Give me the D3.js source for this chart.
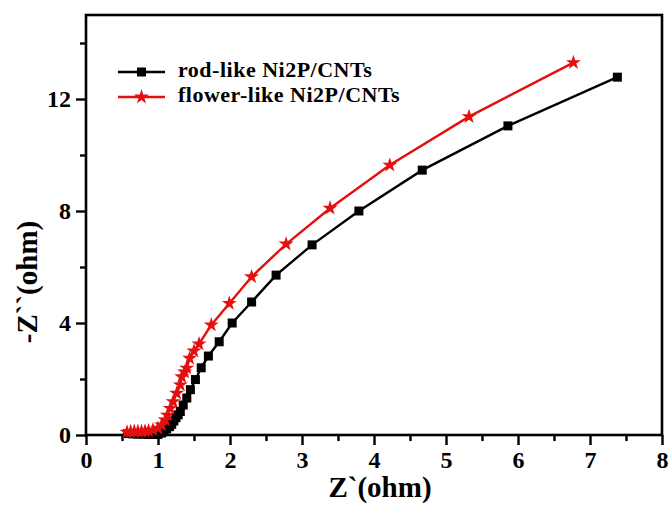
<!DOCTYPE html>
<html>
<head>
<meta charset="utf-8">
<script src="https://d3js.org/d3.v7.min.js"></script>
<style>
  body { margin: 0; background: #fff; }
  svg { display: block; }
  text { font-family: "Liberation Serif", "Times New Roman", serif; font-weight: bold; }
</style>
</head>
<body>
<svg id="chart"></svg>
<script>
// Nyquist data
const rodZre = [0.58, 0.65, 0.72, 0.79, 0.86, 0.93, 1.00, 1.05, 1.09, 1.12, 1.16, 1.19, 1.22, 1.25, 1.28, 1.31, 1.35, 1.40, 1.45, 1.52, 1.60, 1.70, 1.85, 2.03, 2.30, 2.64, 3.14, 3.79, 4.67, 5.86, 7.38];
const rodZim = [0.05, 0.04, 0.03, 0.03, 0.02, 0.02, 0.02, 0.07, 0.14, 0.22, 0.30, 0.38, 0.50, 0.62, 0.72, 0.84, 1.07, 1.32, 1.62, 1.98, 2.40, 2.82, 3.33, 4.00, 4.75, 5.71, 6.79, 8.00, 9.46, 11.04, 12.78];

const flowerZre = [0.57, 0.62, 0.67, 0.72, 0.77, 0.82, 0.87, 0.93, 1.00, 1.05, 1.10, 1.13, 1.17, 1.21, 1.26, 1.31, 1.33, 1.37, 1.40, 1.44, 1.50, 1.57, 1.74, 1.99, 2.30, 2.78, 3.39, 4.22, 5.32, 6.77];
const flowerZim = [0.10, 0.12, 0.13, 0.13, 0.13, 0.14, 0.15, 0.18, 0.24, 0.36, 0.54, 0.71, 0.95, 1.19, 1.49, 1.79, 2.08, 2.25, 2.39, 2.74, 3.00, 3.25, 3.93, 4.70, 5.65, 6.82, 8.10, 9.64, 11.37, 13.30];

const seriesNames = ["rod-like Ni2P/CNTs", "flower-like Ni2P/CNTs"];
const seriesColors = ["#000000", "#e3100f"];
const xTicks = [0, 1, 2, 3, 4, 5, 6, 7, 8];
const yTicks = [0, 4, 8, 12];

const width = 670, height = 505;
const margin = {left: 86, right: 8, top: 15, bottom: 70};

const svg = d3.select("#chart")
    .attr("width", width)
    .attr("height", height);

const x = d3.scaleLinear()
    .domain([0, 8])
    .range([margin.left, width - margin.right]);
const y = d3.scaleLinear()
    .domain([0, 15])
    .range([height - margin.bottom, margin.top]);

//Axes
const xMinor = d3.range(0.5, 8, 1);
const yMinor = d3.range(2, 15, 4);

svg.append("g")
    .attr("transform", `translate(0, ${y(0)})`)
    .call(d3.axisBottom(x).tickValues(xMinor).tickSize(6).tickFormat(""))
    .call(g => g.select(".domain").remove())
    .selectAll("line").attr("stroke-width", 2.4);
svg.append("g")
    .attr("transform", `translate(${x(0)}, 0)`)
    .call(d3.axisLeft(y).tickValues(yMinor).tickSize(6).tickFormat(""))
    .call(g => g.select(".domain").remove())
    .selectAll("line").attr("stroke-width", 2.4);

const xAxisG = svg.append("g")
    .attr("transform", `translate(0, ${y(0)})`)
    .call(d3.axisBottom(x).tickValues(xTicks).tickSize(10).tickPadding(6).tickFormat(d3.format("d")));
xAxisG.select(".domain").remove();
xAxisG.selectAll("line").attr("stroke-width", 2.4);
xAxisG.selectAll("text").attr("font-size", 24).attr("fill", "#000");

const yAxisG = svg.append("g")
    .attr("transform", `translate(${x(0)}, 0)`)
    .call(d3.axisLeft(y).tickValues(yTicks).tickSize(10).tickPadding(5).tickFormat(d3.format("d")));
yAxisG.select(".domain").remove();
yAxisG.selectAll("line").attr("stroke-width", 2.4);
yAxisG.selectAll("text").attr("font-size", 24).attr("fill", "#000");

// frame
svg.append("rect")
    .attr("x", x(0))
    .attr("y", y(15))
    .attr("width", x(8) - x(0))
    .attr("height", y(0) - y(15))
    .attr("fill", "none")
    .attr("stroke", "#000")
    .attr("stroke-width", 2.6);

// axis titles
svg.append("text")
    .attr("x", 380)
    .attr("y", 497)
    .attr("text-anchor", "middle")
    .attr("font-size", 29)
    .text("Z`(ohm)");
svg.append("text")
    .attr("transform", "translate(37, 282) rotate(-90)")
    .attr("text-anchor", "middle")
    .attr("font-size", 29)
    .text("-Z``(ohm)");

//Series
const line = d3.line().x(d => x(d[0])).y(d => y(d[1]));
const rodPts = rodZre.map((v, i) => [v, rodZim[i]]);
const flowerPts = flowerZre.map((v, i) => [v, flowerZim[i]]);

const plot = svg.append("g");

plot.append("path")
    .datum(rodPts)
    .attr("d", line)
    .attr("fill", "none")
    .attr("stroke", seriesColors[0])
    .attr("stroke-width", 2.4);
plot.selectAll("rect.rod")
    .data(rodPts)
    .join("rect")
    .attr("class", "rod")
    .attr("x", d => x(d[0]) - 4.5)
    .attr("y", d => y(d[1]) - 4.5)
    .attr("width", 9)
    .attr("height", 9)
    .attr("fill", seriesColors[0]);

const star = d3.symbol().type(d3.symbolStar).size(70);
plot.append("path")
    .datum(flowerPts)
    .attr("d", line)
    .attr("fill", "none")
    .attr("stroke", seriesColors[1])
    .attr("stroke-width", 2.4);
plot.selectAll("path.flower")
    .data(flowerPts)
    .join("path")
    .attr("class", "flower")
    .attr("d", star)
    .attr("transform", d => `translate(${x(d[0])}, ${y(d[1])})`)
    .attr("fill", seriesColors[1]);

//Legend
const legend = svg.append("g");
seriesNames.forEach((name, i) => {
    const ly = 72 + i * 25;
    legend.append("line")
        .attr("x1", 118).attr("x2", 165)
        .attr("y1", ly).attr("y2", ly)
        .attr("stroke", seriesColors[i])
        .attr("stroke-width", 2.4);
    if (i === 0) {
        legend.append("rect")
            .attr("x", 141.5 - 4.5).attr("y", ly - 4.5)
            .attr("width", 9).attr("height", 9)
            .attr("fill", seriesColors[i]);
    } else {
        legend.append("path")
            .attr("d", star)
            .attr("transform", `translate(141.5, ${ly})`)
            .attr("fill", seriesColors[i]);
    }
    legend.append("text")
        .attr("x", 178)
        .attr("y", ly + 5)
        .attr("font-size", 22)
        .attr("letter-spacing", 0.5)
        .text(name);
});
</script>
</body>
</html>
